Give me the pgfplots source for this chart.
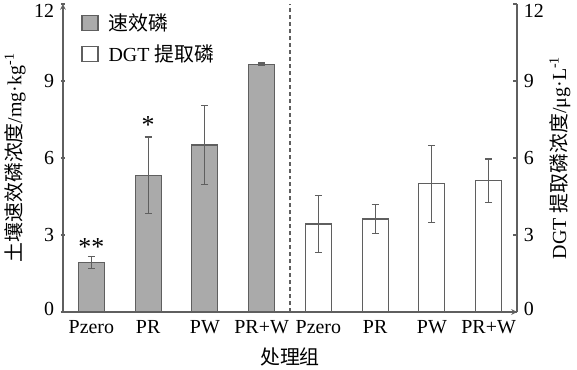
\documentclass[border=0pt]{standalone}
\usepackage{pgfplots}
\pgfplotsset{compat=1.18}
\usepackage{fontspec}
\setmainfont{Liberation Serif}
\newfontfamily\cjk{Noto Sans CJK SC}
\definecolor{barfill}{RGB}{170,170,170}
\definecolor{edge}{RGB}{95,95,95}
\begin{document}
\fontsize{20}{23}\selectfont
\begin{tikzpicture}
\pgfplotsset{
  base/.style={
    scale only axis, width=454bp, height=308bp,
    xmin=-0.5, xmax=7.5, ymin=0, ymax=12,
    ytick={0,3,6,9,12},
    yticklabels={\raisebox{-3.5bp}[0pt][0pt]{0},\raisebox{-6.5bp}[0pt][0pt]{3},\raisebox{-6.5bp}[0pt][0pt]{6},\raisebox{-6.5bp}[0pt][0pt]{9},\raisebox{-14bp}[0pt][0pt]{12}},
    tick align=inside, major tick length=4bp,
    axis line style={-, edge, line width=1.5pt},
    every tick/.style={edge, line width=1.2pt},
    /pgf/number format/assume math mode=true,
    tick label style={font=\fontsize{20}{23}\selectfont},
    label style={font=\fontsize{20}{23}\selectfont},
  }
}
\begin{axis}[
  base,
  axis x line=bottom, axis y line=left,
  xtick={0,...,7},
  xticklabels={Pzero,PR,PW,PR+W,Pzero,PR,PW,PR+W},
  xtick style={draw=none},
  xlabel={\cjk 处理组},
  ylabel={{\cjk 土壤速效磷浓度}/mg·kg\textsuperscript{-1}},
  ylabel shift=-5bp,
  legend style={at={(0.04,0.975)}, anchor=north west, draw=none, fill=none,
    font=\fontsize{20}{23}\selectfont, row sep=7bp, inner sep=0pt},
  legend cell align=left,
  legend image code/.code={\draw[#1, line width=1.2pt] (0bp,-7bp) rectangle (16bp,8bp); \path (24bp,0bp);},
]
\addplot[ybar, bar width=26bp, bar shift=0pt, fill=barfill, draw=edge, line width=1.2pt,
  error bars/.cd, y dir=both, y explicit,
  error bar style={edge, line width=1.2pt},
  error mark options={rotate=90, mark size=3.5pt, edge, line width=1.2pt}]
  coordinates {
  (0,1.92) +- (0,0.23)
  (1,5.33) +- (0,1.49)
  (2,6.51) +- (0,1.55)
  (3,9.65) +- (0,0.05)
  };
\addlegendentry{\cjk 速效磷}
\addplot[ybar, bar width=26bp, bar shift=0pt, fill=white, draw=edge, line width=1.2pt,
  error bars/.cd, y dir=both, y explicit,
  error bar style={edge, line width=1.2pt},
  error mark options={rotate=90, mark size=3.5pt, edge, line width=1.2pt}]
  coordinates {
  (4,3.43) +- (0,1.1)
  (5,3.62) +- (0,0.57)
  (6,5.00) +- (0,1.5)
  (7,5.12) +- (0,0.84)
  };
\addlegendentry{DGT {\cjk 提取磷}}
\addplot[edge, line width=1.5pt, dash pattern=on 4pt off 3pt, forget plot] coordinates {(3.5,0) (3.5,12)};
\node[font=\fontsize{26}{26}\selectfont, inner sep=0pt] at (axis cs:0,2.55) {**};
\node[font=\fontsize{26}{26}\selectfont, inner sep=0pt] at (axis cs:1,7.3) {*};
\end{axis}
\begin{axis}[
  base,
  axis x line=none, axis y line*=right,
  ylabel={DGT {\cjk 提取磷浓度}/μg·L\textsuperscript{-1}},
  ylabel style={yshift=8bp},
]
\end{axis}
\pgfresetboundingbox
\path[use as bounding box] ([xshift=-63bp,yshift=-58bp]current axis.south west) rectangle ([xshift=60bp,yshift=4bp]current axis.north east);
\end{tikzpicture}
\end{document}
